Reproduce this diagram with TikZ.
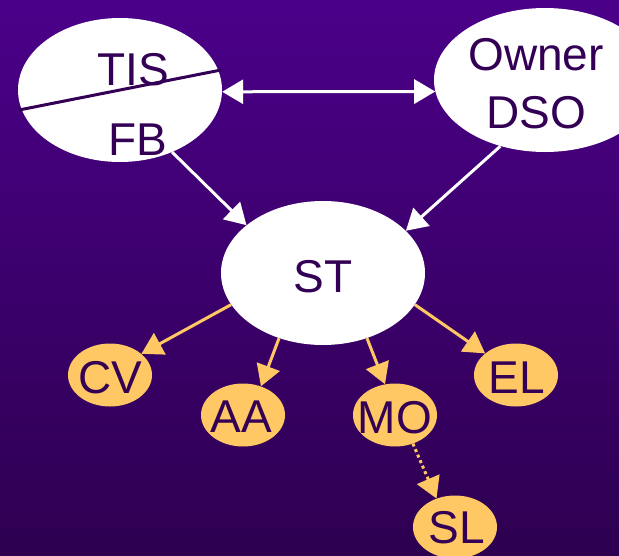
\documentclass[tikz,border=0pt]{standalone}
\usepackage{fontspec}
\setmainfont{Liberation Sans}
\usetikzlibrary{shapes.geometric,arrows.meta}
\definecolor{bgtop}{RGB}{75,0,137}
\definecolor{bgbot}{RGB}{45,0,80}
\definecolor{ink}{RGB}{51,0,85}
\definecolor{gold}{RGB}{255,200,100}
\tikzset{
  wnode/.style={ellipse, fill=white, draw=none, inner sep=0pt, minimum width=204pt, minimum height=144pt},
  onode/.style={ellipse, fill=gold, draw=none, inner sep=0pt, minimum width=84pt, minimum height=63pt},
  lbl/.style={anchor=base, inner sep=0pt, text=ink, font=\fontsize{46}{50}\selectfont},
  tip/.style={Triangle[length=21pt,width=24pt]},
  warrow/.style={draw=white, line width=3pt, -{Triangle[length=21pt,width=24pt]}},
  wdouble/.style={draw=white, line width=3pt, {Triangle[length=21pt,width=24pt]}-{Triangle[length=21pt,width=24pt]}},
  oarrow/.style={draw=gold, line width=3pt, -{Triangle[length=21pt,width=24pt]}},
  odots/.style={draw=gold, line width=3pt, dash pattern=on 3pt off 3pt, -{Triangle[length=21pt,width=24pt]}},
}
\begin{document}
\begin{tikzpicture}[x=1pt,y=-1pt]
\useasboundingbox (0,0) rectangle (619,555);
\clip (0,0) rectangle (619,555);
\shade[top color=bgtop, bottom color=bgbot] (0,0) rectangle (619,555);
% main nodes
\node[wnode] (tf) at (120,90) {};
\node[wnode, minimum width=222pt] (own) at (545,80) {};
\node[wnode] (st) at (323,273) {};
\node[onode] (cv) at (110,375) {};
\node[onode] (aa) at (243,415) {};
\node[onode] (mo) at (395,415) {};
\node[onode] (el) at (516,375) {};
\node[onode] (sl) at (455,527) {};
% divider in TIS/FB
\coordinate (d1) at (19,110);
\coordinate (d2) at (221,70);
\draw[draw=ink, line width=3pt] (d1) -- (d2);
% labels
\node[lbl] (tis) at (133,85) {TIS};
\node[lbl] (fb) at (138,155) {FB};
\node[lbl] (owner) at (536,70) {Owner};
\node[lbl] (dso) at (536,128) {DSO};
\node[lbl] (tst) at (323,292) {ST};
\node[lbl] (tcv) at (110,393) {CV};
\node[lbl] (taa) at (241,432) {AA};
\node[lbl] (tmo) at (395,433) {MO};
\node[lbl] (tel) at (517,393) {EL};
\node[lbl] (tsl) at (457,543) {SL};
% connectors
\draw[wdouble] (tf.-1) -- (own.186);
\draw[warrow] (tf.-50) -- (st.148);
\draw[warrow] (own.-124) -- (st.27);
\draw[oarrow] (st.199) -- (cv.34);
\draw[oarrow] (st.236) -- (aa.58);
\draw[oarrow] (st.-56) -- (mo.108);
\draw[oarrow] (st.-19) -- (el.145);
\draw[odots] (mo.-58) -- (sl.123);
\end{tikzpicture}
\end{document}
